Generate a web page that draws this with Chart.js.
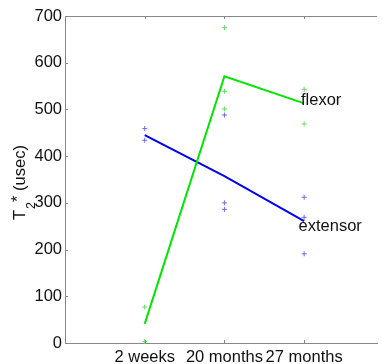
<!DOCTYPE html>
<html>
<head>
<meta charset="utf-8">
<script src="https://cdn.jsdelivr.net/npm/chart.js@4"></script>
<style>
    body { margin: 0; background: #fff; }
</style>
</head>
<body>
<canvas id="grafico" width="382" height="364"></canvas>
<script>
// datos
const categorias = ["2 weeks", "20 months", "27 months"];
const flexorMedia = [41, 571, 513];
const extensorMedia = [445, 357, 261];
const flexorMuestras = [[77, 3], [675, 539, 501], [543, 469]];
const extensorMuestras = [[459, 434], [488, 300, 286], [312, 269, 191]];
const yTicks = [0, 100, 200, 300, 400, 500, 600, 700];

const fuente = "Liberation Sans, Arial, sans-serif";

function aPuntos(valores) {
    return valores.map((v, i) => ({ x: i + 1, y: v }));
}

function aMuestras(grupos) {
    let puntos = [];
    grupos.forEach((grupo, i) => {
        grupo.forEach(v => puntos.push({ x: i + 1, y: v }));
    });
    return puntos;
}

const extras = {
    id: "extras",
    afterDraw(chart) {
        const ctx = chart.ctx;
        const area = chart.chartArea;
        const x = chart.scales.x;
        const y = chart.scales.y;

        ctx.save();
        // linea superior de la caja
        ctx.strokeStyle = "#888";
        ctx.lineWidth = 1;
        ctx.beginPath();
        ctx.moveTo(area.left, area.top + 0.5);
        ctx.lineTo(area.right, area.top + 0.5);
        ctx.stroke();

        // marcas hacia adentro
        ctx.beginPath();
        [1, 2, 3].forEach(v => {
            const px = Math.round(x.getPixelForValue(v)) + 0.5;
            ctx.moveTo(px, area.bottom);
            ctx.lineTo(px, area.bottom - 3);
            ctx.moveTo(px, area.top);
            ctx.lineTo(px, area.top + 3);
        });
        yTicks.forEach(v => {
            const py = Math.round(y.getPixelForValue(v)) + 0.5;
            ctx.moveTo(area.left, py);
            ctx.lineTo(area.left + 3, py);
        });
        ctx.stroke();

        // etiquetas de las series
        ctx.fillStyle = "#111";
        ctx.font = "16.5px " + fuente;
        ctx.textBaseline = "middle";
        ctx.textAlign = "left";
        ctx.fillText("flexor", x.getPixelForValue(2.96), y.getPixelForValue(flexorMedia[2] + 6));
        ctx.fillText("extensor", x.getPixelForValue(2.93), y.getPixelForValue(extensorMedia[2] - 12));

        // titulo del eje y: T_2^* (usec)
        ctx.translate(25, 220);
        ctx.rotate(-Math.PI / 2);
        ctx.textBaseline = "alphabetic";
        ctx.font = "16.5px " + fuente;
        ctx.fillText("T", 0, 0);
        let pos = ctx.measureText("T").width + 1;
        ctx.font = "12.5px " + fuente;
        ctx.fillText("2", pos, 10);
        pos += ctx.measureText("2").width;
        ctx.font = "16.5px " + fuente;
        ctx.fillText("*", pos, -2);
        pos += ctx.measureText("* ").width;
        ctx.fillText("(usec)", pos, 0);
        ctx.restore();
    }
};

new Chart(document.getElementById("grafico"), {
    type: "line",
    data: {
        datasets: [
            {
                label: "flexor",
                data: aPuntos(flexorMedia),
                borderColor: "#00e600",
                borderWidth: 2,
                pointRadius: 0,
                clip: false
            },
            {
                label: "extensor",
                data: aPuntos(extensorMedia),
                borderColor: "#0000f0",
                borderWidth: 2,
                pointRadius: 0,
                clip: false
            },
            {
                type: "scatter",
                data: aMuestras(flexorMuestras),
                showLine: false,
                pointStyle: "cross",
                pointRadius: 2.5,
                borderWidth: 1,
                borderColor: "#5fe05f",
                clip: false
            },
            {
                type: "scatter",
                data: aMuestras(extensorMuestras),
                showLine: false,
                pointStyle: "cross",
                pointRadius: 2.5,
                borderWidth: 1,
                borderColor: "#6a6aff",
                clip: false
            }
        ]
    },
    options: {
        responsive: false,
        animation: false,
        layout: { padding: { top: 16, left: 0, right: 0, bottom: 0 } },
        plugins: {
            legend: { display: false },
            tooltip: { enabled: false }
        },
        scales: {
            x: {
                type: "linear",
                min: 0,
                max: 3.914,
                afterBuildTicks: scale => {
                    scale.ticks = categorias.map((c, i) => ({ value: i + 1 }));
                },
                afterFit: scale => { scale.height = 21; },
                ticks: {
                    autoSkip: false,
                    maxRotation: 0,
                    padding: 5,
                    color: "#111",
                    font: { family: fuente, size: 16.5 },
                    callback: v => categorias[v - 1]
                },
                grid: { drawOnChartArea: false, drawTicks: false },
                border: { color: "#888" }
            },
            y: {
                min: 0,
                max: 700,
                afterBuildTicks: scale => {
                    scale.ticks = yTicks.map(v => ({ value: v }));
                },
                afterFit: scale => { scale.width = 65; },
                ticks: {
                    padding: 3,
                    color: "#111",
                    font: { family: fuente, size: 16.5 }
                },
                grid: { drawOnChartArea: false, drawTicks: false },
                border: { color: "#888" }
            }
        }
    },
    plugins: [extras]
});
</script>
</body>
</html>
